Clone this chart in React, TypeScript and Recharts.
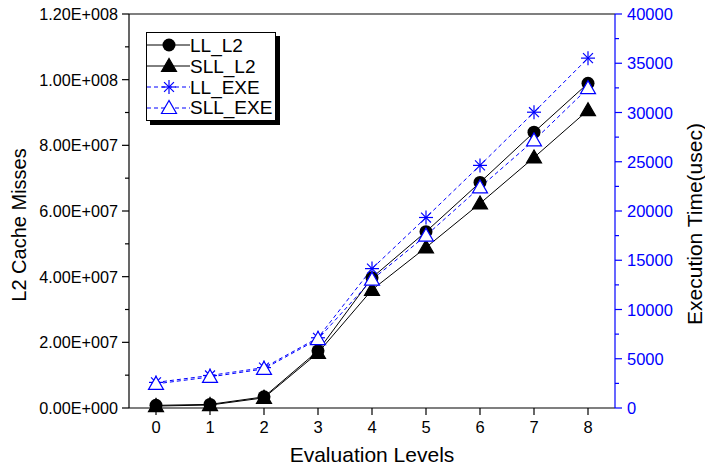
import React from 'react';
import { LineChart, Line, XAxis, YAxis, Legend, ReferenceLine } from 'recharts';

const levels = [0, 1, 2, 3, 4, 5, 6, 7, 8];
const llL2 = [0.8e6, 1.1e6, 3.4e6, 1.74e7, 3.97e7, 5.37e7, 6.87e7, 8.4e7, 9.89e7];
const sllL2 = [0.6e6, 0.9e6, 3.1e6, 1.68e7, 3.6e7, 4.89e7, 6.23e7, 7.63e7, 9.07e7];
const llExe = [2600, 3300, 4100, 7130, 14150, 19340, 24630, 30030, 35520];
const sllExe = [2450, 3150, 3970, 7000, 13030, 17500, 22400, 27170, 32470];

const leftTicks = [0, 1e7, 2e7, 3e7, 4e7, 5e7, 6e7, 7e7, 8e7, 9e7, 1e8, 1.1e8, 1.2e8];
const rightTicks = [0, 2500, 5000, 7500, 10000, 12500, 15000, 17500, 20000, 22500, 25000, 27500, 30000, 32500, 35000, 37500, 40000];

const BLUE = '#0000ff';
const FONT = '"Liberation Sans", Arial, sans-serif';

const data = levels.map((lvl, i) => ({
  level: lvl,
  llL2: llL2[i],
  sllL2: sllL2[i],
  llExe: llExe[i],
  sllExe: sllExe[i],
}));

// 1.20E+008 style labels
function sci(v: number) {
  if (v === 0) return '0.00E+000';
  const e = Math.floor(Math.log10(v) + 1e-9);
  const m = v / Math.pow(10, e);
  return m.toFixed(2) + 'E+' + String(e).padStart(3, '0');
}

const LeftTick = (props: any) => {
  const { x, y, payload } = props;
  const v = payload.value;
  const major = Math.round(v / 1e7) % 2 === 0;
  return (
    <g>
      <line x1={x} x2={x - (major ? 7 : 4)} y1={y} y2={y} stroke="#000" strokeWidth={1.2} />
      {major && (
        <text x={x - 11} y={y + 6} textAnchor="end" fontSize={16.2} fontFamily={FONT} fill="#000">
          {sci(v)}
        </text>
      )}
    </g>
  );
};

const RightTick = (props: any) => {
  const { x, y, payload } = props;
  const v = payload.value;
  const major = v % 5000 === 0;
  return (
    <g>
      <line x1={x} x2={x + (major ? 7 : 4)} y1={y} y2={y} stroke={BLUE} strokeWidth={1.2} />
      {major && (
        <text x={x + 12} y={y + 6} textAnchor="start" fontSize={16.5} fontFamily={FONT} fill={BLUE}>
          {v}
        </text>
      )}
    </g>
  );
};

const BottomTick = (props: any) => {
  const { x, y, payload } = props;
  return (
    <g>
      <line x1={x} x2={x} y1={y} y2={y + 7} stroke="#000" strokeWidth={1.2} />
      <text x={x} y={y + 25} textAnchor="middle" fontSize={16.5} fontFamily={FONT} fill="#000">
        {payload.value}
      </text>
    </g>
  );
};

const circleShape = (cx: number, cy: number) => <circle cx={cx} cy={cy} r={6.5} fill="#000" />;
const triShape = (cx: number, cy: number, fill: string, stroke: string) => (
  <polygon
    points={`${cx},${cy - 7.5} ${cx - 7.5},${cy + 5.5} ${cx + 7.5},${cy + 5.5}`}
    fill={fill}
    stroke={stroke}
    strokeWidth={1.2}
  />
);
const starShape = (cx: number, cy: number) => {
  const r = 7;
  const d = r * Math.SQRT1_2;
  return (
    <g stroke={BLUE} strokeWidth={1.2}>
      <line x1={cx - r} x2={cx + r} y1={cy} y2={cy} />
      <line x1={cx} x2={cx} y1={cy - r} y2={cy + r} />
      <line x1={cx - d} x2={cx + d} y1={cy - d} y2={cy + d} />
      <line x1={cx - d} x2={cx + d} y1={cy + d} y2={cy - d} />
    </g>
  );
};

const markers: Record<string, (cx: number, cy: number) => React.ReactElement> = {
  llL2: circleShape,
  sllL2: (cx, cy) => triShape(cx, cy, '#000', '#000'),
  llExe: starShape,
  sllExe: (cx, cy) => triShape(cx, cy, '#fff', BLUE),
};

const makeDot = (key: string) => (p: any) => (
  <g key={`${key}-${p.index}`}>{markers[key](p.cx, p.cy)}</g>
);

const legendItems = [
  { key: 'llL2', label: 'LL_L2', color: '#000', dash: undefined },
  { key: 'sllL2', label: 'SLL_L2', color: '#000', dash: undefined },
  { key: 'llExe', label: 'LL_EXE', color: BLUE, dash: '4 3' },
  { key: 'sllExe', label: 'SLL_EXE', color: BLUE, dash: '4 3' },
];

const LegendBox = () => (
  <div
    style={{
      width: 128,
      border: '1px solid #000',
      background: '#fff',
      boxShadow: '4px 4px 0 #000',
      padding: '2px 0 2px 0',
      fontFamily: FONT,
      fontSize: 19,
      lineHeight: '21px',
    }}
  >
    {legendItems.map((it) => (
      <div key={it.key} style={{ display: 'flex', alignItems: 'center', height: 20.8 }}>
        <svg width={43} height={20} style={{ flex: 'none' }}>
          <line x1={0} x2={43} y1={10} y2={10} stroke={it.color} strokeWidth={1} strokeDasharray={it.dash} />
          {markers[it.key](22, 10)}
        </svg>
        <span style={{ marginLeft: 0, color: '#000', whiteSpace: 'nowrap' }}>{it.label}</span>
      </div>
    ))}
  </div>
);

export default function App() {
  return (
    <div style={{ position: 'absolute', left: 0, top: 0, width: 705, height: 465, background: '#fff' }}>
      <LineChart width={705} height={465} data={data} margin={{ top: 14, right: 0, bottom: 0, left: 0 }}>
        <XAxis
          dataKey="level"
          type="number"
          domain={[-0.5, 8.5]}
          ticks={levels}
          height={57}
          tickSize={0}
          tickMargin={0}
          tickLine={false}
          tick={<BottomTick />}
          axisLine={{ stroke: '#000', strokeWidth: 1.2 }}
          interval={0}
        />
        <YAxis
          yAxisId="left"
          orientation="left"
          domain={[0, 1.2e8]}
          ticks={leftTicks}
          width={129}
          tickSize={0}
          tickMargin={0}
          tickLine={false}
          tick={<LeftTick />}
          axisLine={{ stroke: '#000', strokeWidth: 1.2 }}
          interval={0}
        />
        <YAxis
          yAxisId="right"
          orientation="right"
          domain={[0, 40000]}
          ticks={rightTicks}
          width={90}
          tickSize={0}
          tickMargin={0}
          tickLine={false}
          tick={<RightTick />}
          axisLine={{ stroke: BLUE, strokeWidth: 1.2 }}
          interval={0}
        />
        <ReferenceLine yAxisId="left" y={1.2e8} stroke="#000" strokeWidth={1.2} />
        <Legend
          layout="horizontal"
          verticalAlign="middle"
          align="center"
          wrapperStyle={{ left: 146, top: 32, width: 'auto' }}
          content={<LegendBox />}
        />
        <Line
          yAxisId="left"
          dataKey="llL2"
          name="LL_L2"
          stroke="#000"
          strokeWidth={1}
          dot={makeDot('llL2')}
          activeDot={false}
          isAnimationActive={false}
        />
        <Line
          yAxisId="left"
          dataKey="sllL2"
          name="SLL_L2"
          stroke="#000"
          strokeWidth={1}
          dot={makeDot('sllL2')}
          activeDot={false}
          isAnimationActive={false}
        />
        <Line
          yAxisId="right"
          dataKey="llExe"
          name="LL_EXE"
          stroke={BLUE}
          strokeWidth={1}
          strokeDasharray="4 3"
          dot={makeDot('llExe')}
          activeDot={false}
          isAnimationActive={false}
        />
        <Line
          yAxisId="right"
          dataKey="sllExe"
          name="SLL_EXE"
          stroke={BLUE}
          strokeWidth={1}
          strokeDasharray="4 3"
          dot={makeDot('sllExe')}
          activeDot={false}
          isAnimationActive={false}
        />
      </LineChart>
      <svg
        width={705}
        height={465}
        style={{ position: 'absolute', left: 0, top: 0, pointerEvents: 'none' }}
      >
        <text x={372} y={462} textAnchor="middle" fontSize={21} fontFamily={FONT} fill="#000">
          Evaluation Levels
        </text>
        <text
          x={26}
          y={225}
          textAnchor="middle"
          fontSize={20}
          fontFamily={FONT}
          fill="#000"
          transform="rotate(-90 26 225)"
        >
          L2 Cache Misses
        </text>
        <text
          x={702}
          y={224}
          textAnchor="middle"
          fontSize={21}
          fontFamily={FONT}
          fill="#000"
          transform="rotate(-90 702 224)"
        >
          Execution Time(usec)
        </text>
      </svg>
    </div>
  );
}
